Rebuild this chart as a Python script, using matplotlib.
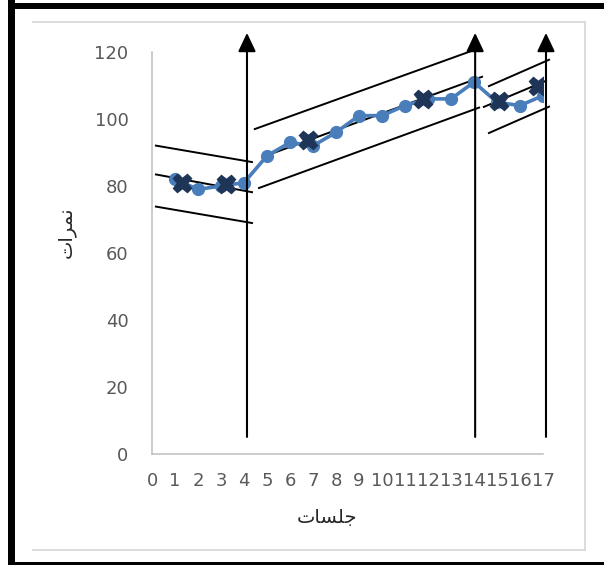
import matplotlib
matplotlib.use("Agg")
import matplotlib.pyplot as plt
from matplotlib.lines import Line2D
from matplotlib.patches import Rectangle

# Session numbers and scores of the single blue series.
sessions = list(range(1, 18))
scores = [82, 79, 80, 81, 89, 93, 92, 96, 101, 101, 104, 106, 106, 111, 105, 104, 107]

# Median points (dark crosses) of each phase half.
median_x = [1.3, 3.2, 6.8, 11.8, 15.1, 16.8]
median_y = [80.8, 80.5, 93.6, 106.1, 105.5, 110.0]

# Trend band lines: start / end in session and score units.
band_x_start = [0.13, 0.13, 0.13, 4.43, 4.78, 4.61, 14.61, 14.39, 14.61]
band_x_end = [4.39, 4.39, 4.39, 14.09, 14.39, 14.26, 17.30, 17.17, 17.30]
band_y_start = [92.1, 83.5, 73.9, 96.9, 88.6, 79.3, 109.7, 103.5, 95.7]
band_y_end = [87.1, 78.1, 68.9, 120.8, 112.7, 103.5, 117.8, 111.5, 103.8]

# Phase-change arrows.
arrow_x = [4.13, 14.05, 17.13]
arrow_bottom = 5.1
arrow_top = 125.7

# Axis ticks.
x_ticks = list(range(0, 18))
y_ticks = list(range(0, 121, 20))

# Axis titles (Persian), written in shaped presentation forms so they join correctly.
x_title = "\uFE95\uFE8E\uFEB4\uFEE0\uFE9F"  # جلسات
y_title = "\uFE95\uFE8D\uFEAE\uFEE4\uFEE7"  # نمرات

W, H = 604, 565

# Figure in pixels.
fig = plt.figure(figsize=(W / 100, H / 100), dpi=100)
fig.patch.set_facecolor("white")


def fx(px):
    # Pixel column to figure fraction.
    return px / W


def fy(py):
    # Pixel row (from top) to figure fraction.
    return 1 - py / H


# Outer black frame (left, top, bottom bands).
fig.add_artist(Rectangle((fx(8), 0), fx(7), 1, transform=fig.transFigure, color="black", lw=0))
fig.add_artist(Rectangle((fx(8), fy(9)), 1, 6 / H, transform=fig.transFigure, color="black", lw=0))
fig.add_artist(Rectangle((fx(8), 0), 1, 3.5 / H, transform=fig.transFigure, color="black", lw=0))

# Light grey chart-area border.
grey = "#D9D9D9"
fig.add_artist(Line2D([fx(33), fx(585)], [fy(22), fy(22)], transform=fig.transFigure, color=grey, lw=1.3))
fig.add_artist(Line2D([fx(585), fx(585)], [fy(22), fy(550)], transform=fig.transFigure, color=grey, lw=1.3))
fig.add_artist(Line2D([fx(33), fx(585)], [fy(550), fy(550)], transform=fig.transFigure, color=grey, lw=1.3))

# Plot area.
ax = fig.add_axes([fx(152), fy(454), fx(543) - fx(152), fy(52) - fy(454)])
ax.set_xlim(0, 17)
ax.set_ylim(0, 120)

# Trend bands.
for x0, x1, y0, y1 in zip(band_x_start, band_x_end, band_y_start, band_y_end):
    ax.plot([x0, x1], [y0, y1], color="black", lw=1.4, solid_capstyle="butt", clip_on=False, zorder=2)

# Data series.
ax.plot(sessions, scores, color="#4A7EBB", lw=2.6, marker="o", markersize=8.5, zorder=3)

# Median crosses.
ax.plot(median_x, median_y, linestyle="none", marker="X", markersize=13,
        color="#1F3558", markeredgecolor="#1F3558", zorder=4)

# Phase-change arrows.
for x in arrow_x:
    ax.annotate("", xy=(x, arrow_top), xytext=(x, arrow_bottom),
                arrowprops=dict(arrowstyle="-|>,head_length=0.95,head_width=0.45",
                                color="black", lw=1.5, shrinkA=0, shrinkB=0,
                                mutation_scale=12),
                annotation_clip=False, zorder=5)

# Ticks and spines.
ax.set_xticks(x_ticks)
ax.set_yticks(y_ticks)
ax.tick_params(axis="x", length=0, pad=13, labelsize=13, labelcolor="#595959")
ax.tick_params(axis="y", length=0, pad=17, labelsize=13, labelcolor="#595959")
for side in ("top", "right"):
    ax.spines[side].set_visible(False)
for side in ("left", "bottom"):
    ax.spines[side].set_color("#BFBFBF")
    ax.spines[side].set_linewidth(1.1)

# Axis titles.
fig.text(fx(327), fy(517), x_title, ha="center", va="center", fontsize=14,
         family="DejaVu Sans", color="#262626")
fig.text(fx(66), fy(232), y_title, ha="center", va="center", fontsize=14,
         rotation=90, family="DejaVu Sans", color="#262626")

fig.savefig("out.png", dpi=100)
plt.close(fig)
